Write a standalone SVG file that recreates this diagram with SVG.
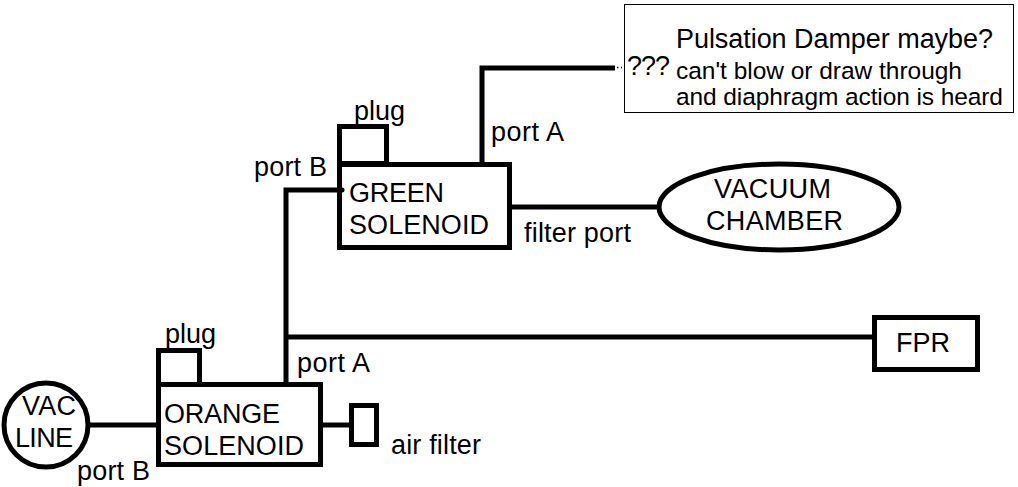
<svg xmlns="http://www.w3.org/2000/svg" width="1018" height="487" viewBox="0 0 1018 487">
<style>
.b{fill:none;stroke:#000;stroke-width:5}
text{font-family:"Liberation Sans",Arial,sans-serif;font-size:27px;fill:#000}
.s{font-size:24.5px}
</style>
<rect width="1018" height="487" fill="#fff"/>
<g id="connectors">
<path class="b" d="M615 68H482V164"/>
<path class="b" d="M510 207H659"/>
<path class="b" d="M339 190H286V384"/>
<path class="b" d="M286 337H874"/>
<path class="b" d="M90 425H158"/>
<path class="b" d="M320 425H351"/>
<circle cx="342" cy="190" r="2.500"/>
<path d="M617 67.500h5" stroke="#000" stroke-width="1.500" stroke-dasharray="1.500 2.500" fill="none"/>
</g>
<g id="note"><rect x="624.500" y="4.500" width="389" height="108" fill="#fff" stroke="#000" stroke-width="1"/>
<text x="627" y="75" textLength="43">???</text>
<text x="676" y="48" textLength="317">Pulsation Damper maybe?</text>
<text x="676" y="79" class="s" textLength="286">can't blow or draw through</text>
<text x="676" y="105" class="s" textLength="327">and diaphragm action is heard</text></g>
<g id="green-plug"><rect class="b" x="339.500" y="126.500" width="47" height="37"/><text x="354" y="120" textLength="51">plug</text></g>
<g id="green-solenoid"><rect class="b" x="339.500" y="164.500" width="170" height="83"/><text x="349" y="202" textLength="95">GREEN</text><text x="349" y="234" textLength="140">SOLENOID</text></g>
<g id="vacuum-chamber"><ellipse class="b" cx="779" cy="207" rx="120" ry="43"/><text x="714" y="198" textLength="117">VACUUM</text><text x="706" y="230" textLength="137">CHAMBER</text></g>
<g id="fpr"><rect class="b" x="874.500" y="317.500" width="103" height="52"/><text x="896" y="352" textLength="54">FPR</text></g>
<g id="orange-plug"><rect class="b" x="158.500" y="350.500" width="41" height="34"/><text x="165" y="343" textLength="51">plug</text></g>
<g id="orange-solenoid"><rect class="b" x="158.500" y="384.500" width="162" height="80"/><text x="164" y="423" textLength="116">ORANGE</text><text x="164" y="455" textLength="140">SOLENOID</text></g>
<g id="air-filter"><rect class="b" x="351.500" y="405.500" width="25" height="39"/><text x="391" y="454" textLength="90">air filter</text></g>
<g id="vac-line"><circle class="b" cx="46" cy="425" r="42"/><text x="22" y="415" textLength="54">VAC</text><text x="15" y="447" textLength="58">LINE</text></g>
<g id="labels">
<text x="254" y="176" textLength="73">port B</text>
<text x="491" y="141" textLength="73">port A</text>
<text x="524" y="242" textLength="107">filter port</text>
<text x="297" y="372" textLength="73">port A</text>
<text x="77" y="480" textLength="73">port B</text>
</g>
</svg>
